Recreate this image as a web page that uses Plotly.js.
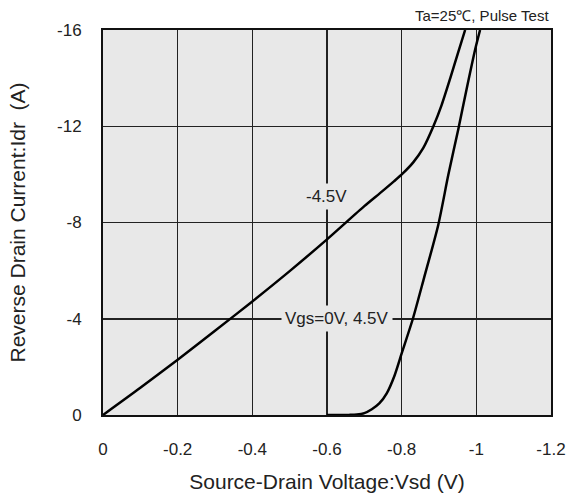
<!DOCTYPE html>
<html>
<head>
<meta charset="utf-8">
<script src="https://cdn.plot.ly/plotly-3.0.1.min.js"></script>
<style>html,body{margin:0;padding:0;background:#fff;}#chart{width:573px;height:499px;}</style>
</head>
<body>
<div id="chart"></div>
<script>
// Vgs = -4.5V curve (Vsd, Idr)
var vsdNeg45 = [0, -0.1, -0.2, -0.3, -0.4, -0.5, -0.6, -0.7, -0.742, -0.78, -0.803, -0.831, -0.858, -0.885, -0.907, -0.930, -0.952, -0.970];
var idrNeg45 = [0, -1.13, -2.3, -3.5, -4.72, -5.98, -7.3, -8.68, -9.22, -9.72, -10.04, -10.5, -11.1, -12.0, -12.88, -13.99, -15.1, -16.0];
// Vgs = 0V, 4.5V curve
var vsdZero = [-0.60, -0.66, -0.68, -0.70, -0.72, -0.74, -0.76, -0.78, -0.80, -0.830, -0.86, -0.898, -0.925, -0.952, -0.974, -0.997, -1.010];
var idrZero = [0, -0.005, -0.02, -0.08, -0.24, -0.48, -0.9, -1.6, -2.56, -4.0, -5.7, -7.9, -9.98, -11.9, -13.55, -15.2, -16.0];

var xTickVals = [0, -0.2, -0.4, -0.6, -0.8, -1, -1.2];
var xTickText = ["0", "-0.2", "-0.4", "-0.6", "-0.8", "-1", "-1.2"];
var yTickVals = [0, -4, -8, -12, -16];
var yTickText = ["0", "-4", "-8", "-12", "-16"];

var curveLabels = ["-4.5V", "Vgs=0V, 4.5V"];
var labelX = [-0.598, -0.628];
var labelY = [-9.1, -4.0];

var FONT = "Liberation Sans, Arial, sans-serif";
var BG = "#e8e8e8";

var traces = [
  {x: vsdNeg45, y: idrNeg45, mode: "lines", line: {color: "#000", width: 2.5, shape: "spline", smoothing: 0.7}, hoverinfo: "skip"},
  {x: vsdZero, y: idrZero, mode: "lines", line: {color: "#000", width: 2.5, shape: "spline", smoothing: 0.7}, hoverinfo: "skip"}
];

var annotations = [];
for (var i = 0; i < curveLabels.length; i++) {
  annotations.push({x: labelX[i], y: labelY[i], xref: "x", yref: "y", text: curveLabels[i], showarrow: false,
    font: {family: FONT, size: 17, color: "#222"}, bgcolor: BG, borderpad: 3});
}
annotations.push({x: 1, y: 1, xref: "paper", yref: "paper", xanchor: "right", yanchor: "bottom", yshift: 4,
  text: "Ta=25\u2103, Pulse Test", showarrow: false, font: {family: FONT, size: 15, color: "#222"}});

var layout = {
  width: 573, height: 499,
  margin: {l: 103, r: 22, t: 30, b: 84},
  paper_bgcolor: "#fff",
  plot_bgcolor: BG,
  showlegend: false,
  font: {family: FONT, color: "#222"},
  xaxis: {
    range: [0, -1.2], tickvals: xTickVals, ticktext: xTickText,
    showgrid: true, gridcolor: "#222", gridwidth: 1.5,
    showline: true, mirror: true, linecolor: "#111", linewidth: 2,
    zeroline: false, ticks: "", ticklabelstandoff: 18,
    tickfont: {family: FONT, size: 17, color: "#222"},
    title: {text: "Source-Drain Voltage:Vsd (V)", font: {family: FONT, size: 21, color: "#222"}, standoff: 16}
  },
  yaxis: {
    range: [0, -16], tickvals: yTickVals, ticktext: yTickText,
    showgrid: true, gridcolor: "#222", gridwidth: 1.5,
    showline: true, mirror: true, linecolor: "#111", linewidth: 2,
    zeroline: false, ticks: "", ticklabelstandoff: 16,
    tickfont: {family: FONT, size: 17, color: "#222"},
    title: {text: "Reverse Drain Current:Idr\u00a0\u00a0(A)", font: {family: FONT, size: 21, color: "#222"}, standoff: 26}
  },
  annotations: annotations
};

Plotly.newPlot("chart", traces, layout, {staticPlot: true, displayModeBar: false});
</script>
</body>
</html>
